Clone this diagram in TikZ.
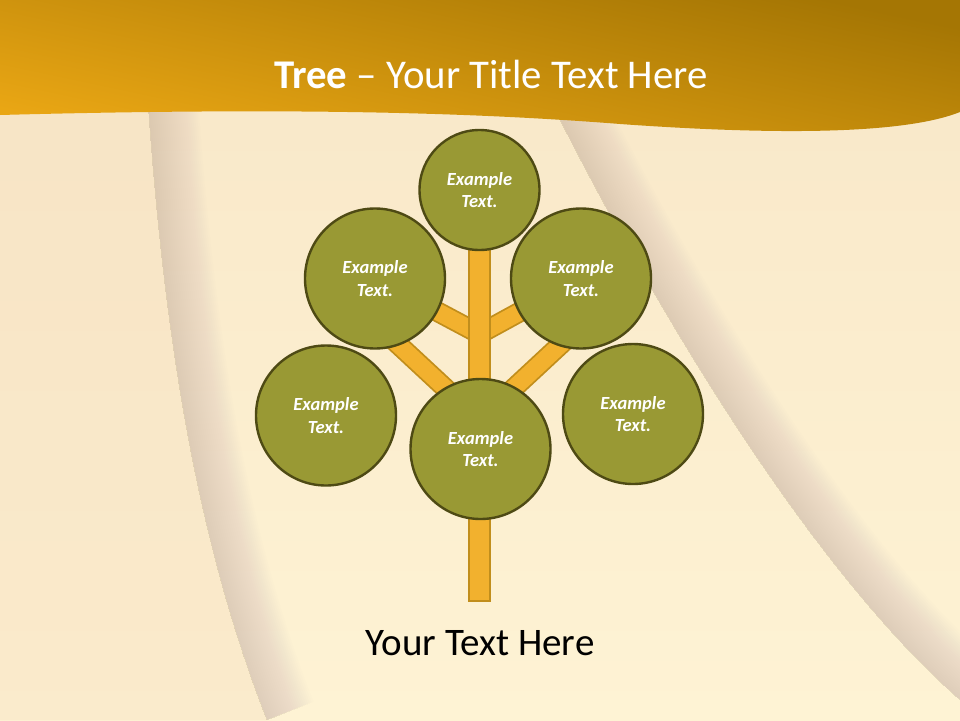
\documentclass[tikz,border=0pt]{standalone}
\usepackage{fontspec}
\setmainfont{Carlito}
\definecolor{leaf}{HTML}{999934}
\definecolor{leafline}{HTML}{4E4A14}
\definecolor{wood}{HTML}{F2B12E}
\definecolor{woodline}{HTML}{C18E1C}
\definecolor{bandtop}{HTML}{A57604}
\definecolor{bandlow}{HTML}{E9A614}
\definecolor{papertop}{HTML}{F8E7C8}
\definecolor{paperlow}{HTML}{FEF3D4}
\definecolor{peach}{HTML}{F6DFC0}
\definecolor{shadow}{HTML}{B39DB0}
\tikzset{
  leaf/.style={circle, fill=leaf, draw=leafline, line width=2.4pt,
    minimum size=#1, inner sep=0pt, align=center, text=white,
    font=\fontsize{18.5}{22.5}\selectfont\bfseries\itshape},
  branch/.style={draw=woodline, line width=1.8pt, double=wood,
    double distance=17pt, line cap=butt},
  trunk/.style={fill=wood, draw=woodline, line width=1.8pt}
}
\begin{document}
\begin{tikzpicture}[x=1pt,y=-1pt]
    \useasboundingbox (0,0) rectangle (960,720);

    % paper and the soft folds
    \shade[top color=papertop, bottom color=paperlow] (0,0) rectangle (960,720);
    \fill[peach, opacity=0.4] (0,100) -- (148,100)
        .. controls (165,350) and (200,550) .. (267,720) -- (0,720) -- cycle;
    \begin{scope}
        \clip (148,100) .. controls (165,350) and (200,550) .. (267,720)
            -- (960,720) -- (960,100) -- cycle;
        \foreach \w in {4,8,...,100} {
            \draw[shadow, line width=\w, opacity=0.014]
                (148,100) .. controls (165,350) and (200,550) .. (267,720);
        }
    \end{scope}
    \begin{scope}
        \clip (550,100) .. controls (640,280) and (800,560) .. (960,700)
            -- (960,100) -- cycle;
        \foreach \w in {4,8,...,100} {
            \draw[shadow, line width=\w, opacity=0.014]
                (550,100) .. controls (640,280) and (800,560) .. (960,700);
        }
    \end{scope}

    % header band
    \shade[top color=bandtop, bottom color=bandlow, shading angle=-12]
        (0,0) -- (960,0) -- (960,112)
        .. controls (900,136) and (760,134) .. (620,124)
        .. controls (480,113) and (300,107) .. (0,115) -- cycle;
    \node[anchor=base, text=white, font=\fontsize{40.8}{48}\selectfont]
        (title) at (491,88) {\textbf{Tree} – Your Title Text Here};

    \coordinate (cTop) at (479.5,190);
    \coordinate (cUpLeft) at (375,278.5);
    \coordinate (cUpRight) at (581,278.5);
    \coordinate (cLeft) at (326,415.5);
    \coordinate (cMid) at (480.5,449);
    \coordinate (cRight) at (633,414);
    \coordinate (jUp) at (479.5,334);
    \coordinate (jLow) at (479.5,420);
    \coordinate (lowLeft) at (345,295);
    \coordinate (lowRight) at (614,295);
    \coordinate (trunkTop) at (469,200);
    \coordinate (trunkFoot) at (490,601);

    % branches, then the trunk over them
    \draw[branch] (cUpLeft) -- (jUp);
    \draw[branch] (cUpRight) -- (jUp);
    \draw[branch] (lowLeft) -- (jLow);
    \draw[branch] (lowRight) -- (jLow);
    \filldraw[trunk] (trunkTop) rectangle (trunkFoot);

    % crown
    \node[leaf=120] (top) at (cTop) {Example\\Text.};
    \node[leaf=140] (upleft) at (cUpLeft) {Example\\Text.};
    \node[leaf=140] (upright) at (cUpRight) {Example\\Text.};
    \node[leaf=140] (left) at (cLeft) {Example\\Text.};
    \node[leaf=140] (mid) at (cMid) {Example\\Text.};
    \node[leaf=140] (right) at (cRight) {Example\\Text.};

    \node[anchor=base, font=\fontsize{39}{46}\selectfont]
        (caption) at (480,655) {Your Text Here};
\end{tikzpicture}
\end{document}
